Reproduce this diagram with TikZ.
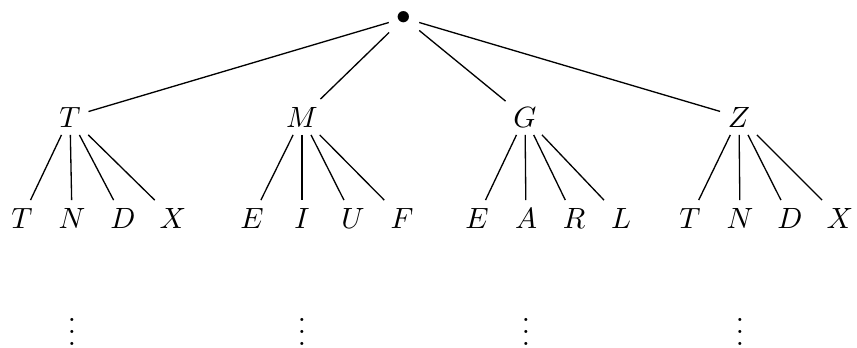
\documentclass[tikz,border=0pt]{standalone}
\begin{document}
\begin{tikzpicture}[x=0.3413pt,y=-0.3413pt,
  lbl/.style={inner sep=2.5pt},
  vd/.style={inner sep=0pt, anchor=south},
  edge/.style={draw=black, line width=0.45pt}]
\useasboundingbox (0,0) rectangle (857,347);
\node[lbl] (root) at (404,18) {$\bullet$};
\node[lbl] (T) at (70,117) {$T$};
\node[lbl] (M) at (302,117) {$M$};
\node[lbl] (G) at (525,117) {$G$};
\node[lbl] (Z) at (739,117) {$Z$};
% children of T
\node[lbl] (T1) at (22,218) {$T$};
\node[lbl] (T2) at (72,218) {$N$};
\node[lbl] (T3) at (123,218) {$D$};
\node[lbl] (T4) at (173,218) {$X$};
% children of M
\node[lbl] (M1) at (252,218) {$E$};
\node[lbl] (M2) at (302,218) {$I$};
\node[lbl] (M3) at (353,218) {$U$};
\node[lbl] (M4) at (402,218) {$F$};
% children of G
\node[lbl] (G1) at (477,218) {$E$};
\node[lbl] (G2) at (526,218) {$A$};
\node[lbl] (G3) at (574,218) {$R$};
\node[lbl] (G4) at (621,218) {$L$};
% children of Z
\node[lbl] (Z1) at (690,218) {$T$};
\node[lbl] (Z2) at (740,218) {$N$};
\node[lbl] (Z3) at (790,218) {$D$};
\node[lbl] (Z4) at (840,218) {$X$};
% vdots
\node[vd] (v1) at (72,346) {$\vdots$};
\node[vd] (v2) at (302,346) {$\vdots$};
\node[vd] (v3) at (526,346) {$\vdots$};
\node[vd] (v4) at (740,346) {$\vdots$};
\foreach \c in {T,M,G,Z} {
  \draw[edge] (root) -- (\c);
  \foreach \i in {1,2,3,4} { \draw[edge] (\c) -- (\c\i); }
}
\end{tikzpicture}
\end{document}
